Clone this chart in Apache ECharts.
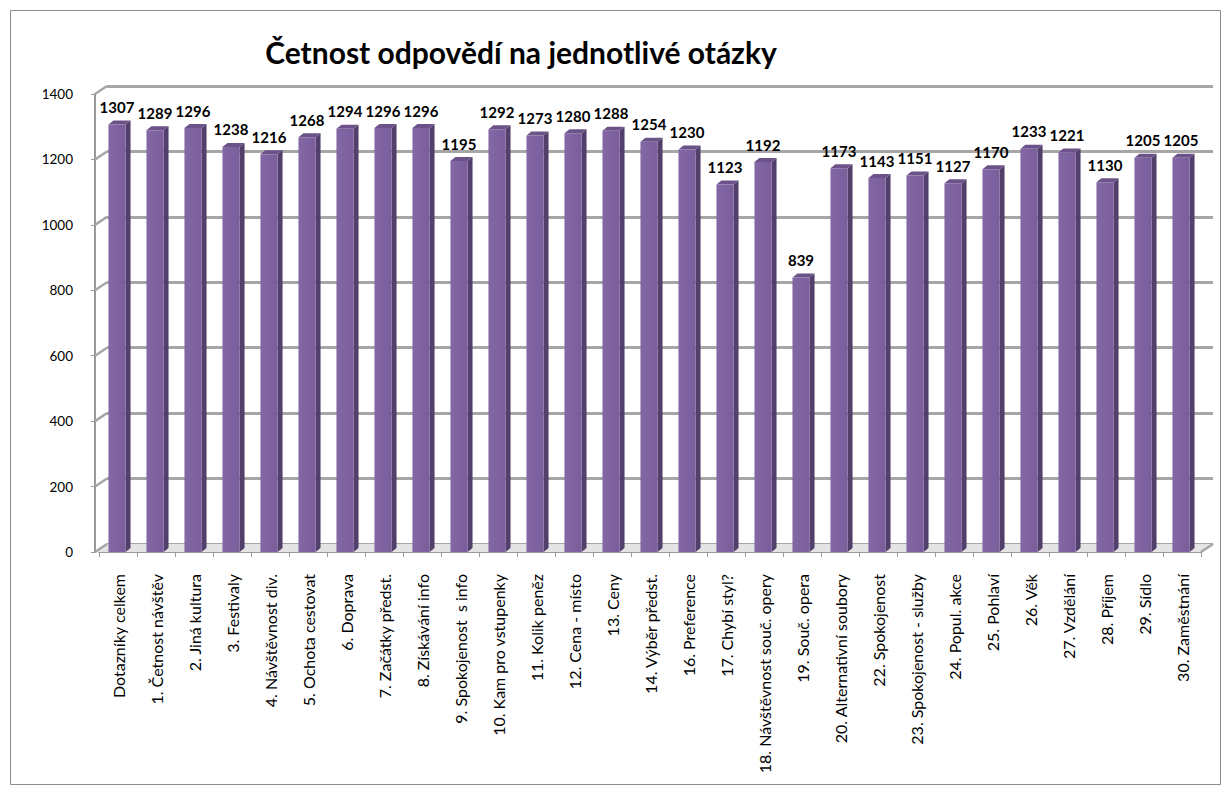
<!DOCTYPE html>
<html>
<head>
<meta charset="utf-8">
<title>Četnost odpovědí</title>
<script src="https://cdn.jsdelivr.net/npm/echarts@6/dist/echarts.min.js"></script>
<style>
  html, body { margin: 0; padding: 0; background: #fff; }
  #chart { width: 1226px; height: 792px; }
</style>
</head>
<body>
<div id="chart"></div>
<script>
// otázky
var categories = [
  'Dotazníky celkem', '1. Četnost návštěv', '2. Jiná kultura', '3. Festivaly',
  '4. Návštěvnost div.', '5. Ochota cestovat', '6. Doprava', '7. Začátky předst.',
  '8. Získávání info', '9. Spokojenost  s info', '10. Kam pro vstupenky', '11. Kolik peněz',
  '12. Cena - místo', '13. Ceny', '14. Výběr předst.', '16. Preference',
  '17. Chybí styl?', '18. Návštěvnost souč. opery', '19. Souč. opera', '20. Alternativní soubory',
  '22. Spokojenost', '23. Spokojenost - služby', '24. Popul. akce', '25. Pohlaví',
  '26. Věk', '27. Vzdělání', '28. Příjem', '29. Sídlo', '30. Zaměstnání'
]
// počet odpovědí
var counts = [
  1307, 1289, 1296, 1238, 1216, 1268, 1294, 1296, 1296, 1195, 1292, 1273, 1280, 1288, 1254,
  1230, 1123, 1192, 839, 1173, 1143, 1151, 1127, 1170, 1233, 1221, 1130, 1205, 1205
]
// značky osy Y
var yTickValues = [0, 200, 400, 600, 800, 1000, 1200, 1400]
var yTicks = { min: 0, max: 1400, interval: 200 }

var font = 'Lato, "Noto Sans", sans-serif'
var gridColor = '#a6a6a6'
var depth = { dx: 12, dy: 8 } // posun zadní stěny

var chart = echarts.init(document.getElementById('chart'), null, { renderer: 'svg' })

function renderBar(params, api) {
  var top = api.coord([api.value(0), api.value(1)])
  var base = api.coord([api.value(0), 0])
  var w = api.size([1, 0])[0] * 0.45
  var dx = 5, dy = 4 // hloubka sloupce
  var x0 = top[0] - w / 2 - 1
  var x1 = x0 + w
  var ty = top[1], by = base[1]
  return {
    type: 'group',
    children: [
      {
        type: 'polygon',
        shape: { points: [[x1, ty], [x1 + dx, ty - dy], [x1 + dx, by - dy], [x1, by]] },
        style: { fill: '#523f6b' }
      },
      {
        type: 'polygon',
        shape: { points: [[x0, ty], [x0 + dx, ty - dy], [x1 + dx, ty - dy], [x1, ty]] },
        style: { fill: '#6b5389' }
      },
      {
        type: 'rect',
        shape: { x: x0, y: ty, width: w, height: by - ty },
        style: {
          fill: new echarts.graphic.LinearGradient(0, 0, 1, 0, [
            { offset: 0, color: '#8468a6' },
            { offset: 1, color: '#7a5e9c' }
          ])
        }
      },
      {
        type: 'text',
        style: {
          text: String(api.value(1)),
          x: top[0] - 1,
          y: ty - 10,
          align: 'center',
          verticalAlign: 'bottom',
          font: 'bold 15px ' + font,
          fill: '#000'
        }
      }
    ]
  }
}

// šikmé čáry boční stěny a podlaha
function renderWall(params, api) {
  var cs = params.coordSys
  var y = api.coord([0, api.value(0)])[1]
  var left = cs.x - 4
  var right = cs.x + cs.width
  var children = [{
    type: 'line',
    shape: { x1: left, y1: y, x2: left + depth.dx, y2: y - depth.dy },
    style: { stroke: gridColor, lineWidth: 2.5 }
  }]
  if (api.value(0) === 0) {
    children.unshift({
      type: 'polygon',
      shape: { points: [[left, y], [left + depth.dx, y - depth.dy], [right + depth.dx, y - depth.dy], [right, y]] },
      style: { fill: '#e4e4e4' }
    })
    children.push({
      type: 'line',
      shape: { x1: right, y1: y, x2: right + depth.dx, y2: y - depth.dy },
      style: { stroke: gridColor, lineWidth: 2.5 }
    })
  }
  return { type: 'group', children: children }
}

chart.setOption({
  title: {
    text: 'Četnost odpovědí na jednotlivé otázky',
    left: 516,
    top: 32,
    textAlign: 'center',
    textStyle: { fontFamily: font, fontSize: 30, fontWeight: 'bold', color: '#000' }
  },
  graphic: [{
    type: 'rect',
    left: 8, top: 8,
    shape: { width: 1210, height: 774 },
    style: { fill: 'none', stroke: '#8c8c8c', lineWidth: 1 },
    silent: true
  }],
  grid: [
    { left: 99, right: 25, top: 94, bottom: 240 },
    { left: 107, right: 13, top: 86, bottom: 248 }
  ],
  xAxis: [
    {
      type: 'category',
      gridIndex: 0,
      data: categories,
      axisLine: { lineStyle: { color: '#999', width: 2 } },
      axisTick: { show: true, interval: 0, length: 5, lineStyle: { color: '#999' } },
      axisLabel: {
        interval: 0,
        rotate: 90,
        margin: 22,
        fontFamily: font,
        fontSize: 16,
        color: '#000'
      }
    },
    {
      type: 'category',
      gridIndex: 1,
      data: categories,
      show: false
    }
  ],
  yAxis: [
    {
      type: 'value',
      gridIndex: 0,
      min: yTicks.min,
      max: yTicks.max,
      interval: yTicks.interval,
      offset: 4,
      axisLine: { show: true, lineStyle: { color: '#999', width: 2 } },
      axisTick: { show: true, length: 4, lineStyle: { color: '#999' } },
      splitLine: { show: false },
      axisLabel: {
        fontFamily: font, fontSize: 13.5, color: '#000', margin: 22,
        formatter: function (v) { return String(v) }
      }
    },
    {
      type: 'value',
      gridIndex: 1,
      min: yTicks.min,
      max: yTicks.max,
      interval: yTicks.interval,
      axisLine: { show: false },
      axisTick: { show: false },
      axisLabel: { show: false },
      splitLine: { show: true, lineStyle: { color: gridColor, width: 3 } }
    }
  ],
  series: [
    {
      name: 'stěna',
      type: 'custom',
      xAxisIndex: 0,
      yAxisIndex: 0,
      renderItem: renderWall,
      encode: { y: 0 },
      data: yTickValues.map(function (v) { return [v] }),
      silent: true,
      z: 1
    },
    {
      name: 'Četnost',
      type: 'custom',
      xAxisIndex: 0,
      yAxisIndex: 0,
      renderItem: renderBar,
      encode: { x: 0, y: 1 },
      data: counts.map(function (v, i) { return [i, v] }),
      z: 5
    }
  ]
})
</script>
</body>
</html>
